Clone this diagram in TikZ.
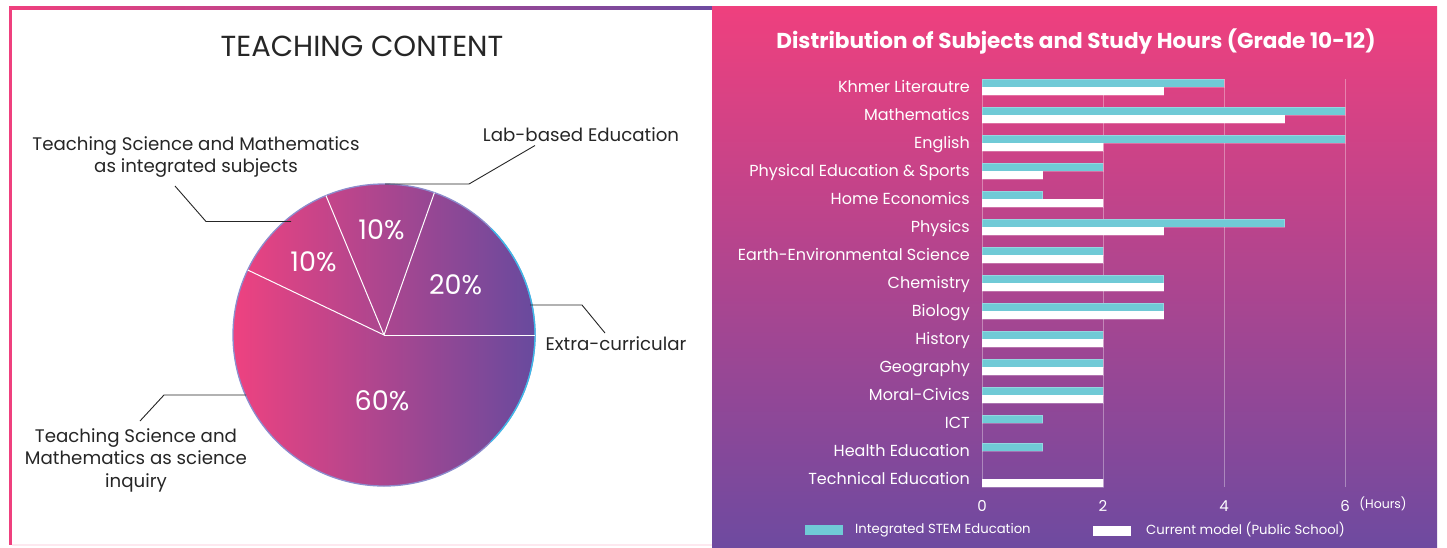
\documentclass[tikz,border=0pt]{standalone}
\usepackage{fontspec}
\setmainfont{Poppins}
\definecolor{pinkA}{RGB}{239,64,126}
\definecolor{purpA}{RGB}{110,74,160}
\definecolor{pieL}{RGB}{238,66,128}
\definecolor{pieR}{RGB}{104,74,158}
\definecolor{barteal}{RGB}{112,202,214}
\definecolor{rimL}{RGB}{140,140,205}
\definecolor{rimR}{RGB}{60,185,232}
\begin{document}
\begin{tikzpicture}[x=1pt,y=-1pt,
  leader/.style={draw=black!85, line width=0.9pt},
  sep/.style={draw=white, line width=1pt},
  pct/.style={text=white, font=\fontsize{27}{30}\selectfont, inner sep=0pt},
  lbl/.style={text=black!85, font=\fontsize{18.2}{22.5}\selectfont, align=center, inner sep=0pt},
  rowlab/.style={text=white, font=\fontsize{16}{18}\selectfont, anchor=base east, inner sep=0pt},
  ticklab/.style={text=white, font=\fontsize{15}{17}\selectfont, inner sep=0pt},
  leglab/.style={text=white, font=\fontsize{13.2}{16}\selectfont, anchor=west, inner sep=0pt},
  gridl/.style={draw=white, draw opacity=0.35, line width=0.9pt},
  stembar/.style={fill=barteal, draw=white, draw opacity=0.25, line width=0.7pt},
  curbar/.style={fill=white, draw=white, draw opacity=0.25, line width=0.7pt}]
\useasboundingbox (0,0) rectangle (1447,547);
\fill[white] (0,0) rectangle (1447,547);
% ---------- left panel frame ----------
\fill[pinkA] (9,6) rectangle (12,545);
\shade[left color=pinkA, right color=purpA] (9,6) rectangle (712,9);
\fill[pinkA!12] (12,544) rectangle (712,546);
% ---------- right panel ----------
\shade[top color=pinkA, bottom color=purpA] (712,6) rectangle (1437,547);

% ---------- pie ----------
\node[text=black!85, font=\fontsize{29}{32}\selectfont, inner sep=0pt] (ptitle) at (362,46) {TEACHING CONTENT};
\coordinate (pc) at (384,335);
\shade[left color=pieL, right color=pieR] (pc) circle[radius=151pt];
\draw[rimL, line width=1.3pt] (pc) circle[radius=151pt];
\draw[rimR, line width=1.3pt] ([shift={(-45:151pt)}]pc) arc[start angle=-45, end angle=45, radius=151pt];
\draw[sep] (pc) -- ++(0:151pt);
\draw[sep] (pc) -- ++(70.5:151pt);
\draw[sep] (pc) -- ++(112.6:151pt);
\draw[sep] (pc) -- ++(154.5:151pt);
\node[pct] (p20) at (455.5,284.5) {20\%};
\node[pct] (p10a) at (381.5,229.5) {10\%};
\node[pct] (p10b) at (313.5,261.5) {10\%};
\node[pct] (p60) at (382,401) {60\%};

% labels
\node[lbl] (llab) at (581,135) {Lab-based Education};
\node[lbl] (lint) at (196,157) {Teaching Science and Mathematics\\as integrated subjects};
\node[lbl] (lext) at (616,344) {Extra-curricular};
\node[lbl] (linq) at (136,460) {Teaching Science and\\Mathematics as science\\inquiry};

% leader lines
\coordinate (a1) at (385,184); \coordinate (a2) at (469,184); \coordinate (a3) at (535,145.5);
\draw[leader] (a1) -- (a2) -- (a3);
\coordinate (b1) at (291,221.5); \coordinate (b2) at (206,221.5); \coordinate (b3) at (175,186);
\draw[leader] (b1) -- (b2) -- (b3);
\coordinate (c1) at (530,305); \coordinate (c2) at (582,305); \coordinate (c3) at (605,333);
\draw[leader] (c1) -- (c2) -- (c3);
\coordinate (d1) at (246,395); \coordinate (d2) at (164,395); \coordinate (d3) at (140,421);
\draw[leader] (d1) -- (d2) -- (d3);

% ---------- bar chart ----------
\node[text=white, font=\bfseries\fontsize{21.6}{25}\selectfont, inner sep=0pt] (btitle) at (1076,42) {Distribution of Subjects and Study Hours (Grade 10-12)};
\foreach \h in {0,2,4,6} {
  \draw[gridl] ({982+60.5*\h},79) -- ({982+60.5*\h},487);
  \node[ticklab] (t\h) at ({982+60.5*\h},506) {\h};
}
\node[text=white, font=\fontsize{12.5}{15}\selectfont, inner sep=0pt] (hours) at (1383,504) {(Hours)};
\foreach \lab/\s/\p [count=\i from 0] in {
  Khmer Literautre/4/3,
  Mathematics/6/5,
  English\ /6/2,
  Physical Education \& Sports/2/1,
  Home Economics/1/2,
  Physics/5/3,
  Earth-Environmental Science/2/2,
  Chemistry/3/3,
  Biology/3/3,
  History/2/2,
  Geography/2/2,
  Moral-Civics/2/2,
  ICT/1/0,
  Health Education/1/0,
  Technical Education/0/2} {
  \pgfmathsetmacro\yc{87+28*\i}
  \node[rowlab] (row\i) at (970,\yc+5.6) {\lab};
  \ifnum\s>0 \draw[stembar] (982,\yc-8) rectangle ({982+60.5*\s},\yc); \fi
  \ifnum\p>0 \draw[curbar] (982,\yc) rectangle ({982+60.5*\p},\yc+8); \fi
}
% legend
\fill[barteal] (805,525) rectangle (843,535);
\node[leglab] (leg1) at (855,530) {Integrated STEM Education};
\fill[white] (1093,525.5) rectangle (1131,535.5);
\node[leglab] (leg2) at (1146,530) {Current model (Public School)};
\end{tikzpicture}
\end{document}
